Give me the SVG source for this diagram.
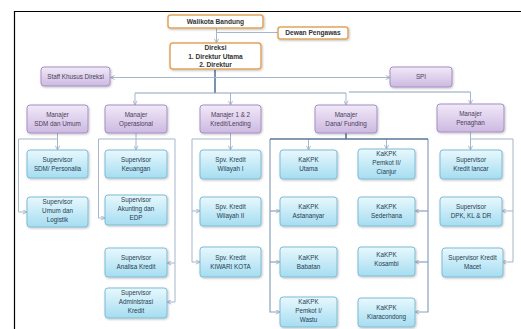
<svg xmlns="http://www.w3.org/2000/svg" width="521" height="329" viewBox="0 0 521 329">
  <defs>
    <linearGradient id="gMgr" x1="0" y1="0" x2="0" y2="1">
      <stop offset="0" stop-color="#f1e9f8"/>
      <stop offset="1" stop-color="#cdb9e1"/>
    </linearGradient>
    <linearGradient id="gSup" x1="0" y1="0" x2="0" y2="1">
      <stop offset="0" stop-color="#e8f8fd"/>
      <stop offset="1" stop-color="#a5ddf1"/>
    </linearGradient>
    <filter id="shadow" x="-10%" y="-10%" width="125%" height="135%">
      <feDropShadow dx="0.8" dy="1" stdDeviation="0.8" flood-color="#000" flood-opacity="0.25"/>
    </filter>
    <marker id="arr" viewBox="0 0 6 6" refX="5.5" refY="3" markerWidth="5" markerHeight="5" markerUnits="userSpaceOnUse" orient="auto">
      <path d="M0.5,0.5 L5.5,3 L0.5,5.5" fill="none" stroke="#9cb0c4" stroke-width="1"/>
    </marker>
  </defs>
  <style>
    .top rect { fill: #ffffff; stroke: #e1a45e; stroke-width: 1.5; filter: url(#shadow); }
    .mgr rect { fill: url(#gMgr); stroke: #a68fc6; stroke-width: 1; filter: url(#shadow); }
    .sup rect { fill: url(#gSup); stroke: #7fbcd5; stroke-width: 1; filter: url(#shadow); }
    text { font-family: "Liberation Sans", Arial, sans-serif; font-size: 6.3px; text-anchor: middle; }
    .top text { font-weight: bold; fill: #333333; font-size: 6.6px; }
    .mgr text { fill: #4a3f5c; }
    .sup text { fill: #27404f; }
    .ln { fill: none; stroke: #a4b7ca; stroke-width: 1; }
    .dk { fill: none; stroke: #587899; stroke-width: 1.6; }
    .md { fill: none; stroke: #8ba2ba; stroke-width: 1.2; }
    .ah { marker-end: url(#arr); }
  </style>

  <!-- frame -->
  <path d="M14.5,329 V11.5 H521" fill="none" stroke="#000" stroke-width="1.2"/>

  <!-- connectors -->
  <g id="connectors">
    <path class="ln ah" d="M216.5,28 V43"/>
    <path class="ln" d="M216.5,32.5 H278"/>
    <path class="dk" d="M215,70 V93"/>
    <path class="ln ah" d="M215,77.5 H110.5"/>
    <path class="ln ah" d="M215,77.5 H390"/>
    <path class="md" d="M135,93 H346"/>
    <path class="ln ah" d="M135,93 V105"/>
    <path class="ln ah" d="M230.5,93 V105"/>
    <path class="ln ah" d="M346,93 V105"/>
    <path class="md" d="M349,92 H470.5"/>
    <path class="ln ah" d="M470.5,92 V104"/>

    <!-- SDM dan Umum -->
    <path class="ln ah" d="M57.5,133 V150"/>
    <path class="ln ah" d="M57.5,139 H18.5 V212 H27"/>

    <!-- Operasional -->
    <path class="ln ah" d="M136,133 V150"/>
    <path class="ln" d="M98.5,139 H175"/>
    <path class="ln ah" d="M98.5,139 V218 H105"/>
    <path class="ln ah" d="M175,139 V302 H167"/>
    <path class="ln ah" d="M175,263 H167"/>

    <!-- Kredit/Lending -->
    <path class="ln ah" d="M230.5,133 V150"/>
    <path class="ln" d="M192,139 H230.5"/>
    <path class="ln ah" d="M192,139 V262 H200"/>
    <path class="ln ah" d="M192,211 H200"/>

    <!-- Dana/Funding -->
    <path class="md ah" d="M270,139 V312 H280"/>
    <path class="md ah" d="M270,211 H280"/>
    <path class="md ah" d="M270,262 H280"/>
    <path class="md ah" d="M428,139 V312 H415"/>
    <path class="md ah" d="M428,211 H415"/>
    <path class="md ah" d="M428,262 H415"/>
    <path class="ln ah" d="M308.5,139 V150"/>
    <path class="ln ah" d="M386.5,139 V149"/>
    <path class="dk" d="M270,139 H428 M346,133 V139"/>

    <!-- Penaghan -->
    <path class="ln ah" d="M470.5,132 V150"/>
    <path class="ln ah" d="M470.5,139 H513 V262 H502"/>
    <path class="ln ah" d="M513,211 H502"/>
  </g>

  <!-- top level -->
  <g id="walikota" class="top"><rect x="168" y="15" width="95" height="13" rx="2.5"/><text x="215.5" y="24" font-size="7px">Walikota Bandung</text></g>
  <g id="dewan" class="top"><rect x="278" y="27" width="70" height="12" rx="2.5"/><text x="313" y="35.3">Dewan Pengawas</text></g>
  <g id="direksi" class="top"><rect x="170" y="43" width="91" height="26" rx="3"/>
    <text x="215.5" y="50.3">Direksi</text><text x="215.5" y="58.5">1. Direktur Utama</text><text x="215.5" y="66.7">2. Direktur</text></g>

  <g id="staff" class="mgr"><rect x="41" y="67" width="69" height="19" rx="3"/><text x="75.5" y="78.5">Staff  Khusus Direksi</text></g>
  <g id="spi" class="mgr"><rect x="390" y="67" width="62" height="20" rx="3"/><text x="421" y="79">SPI</text></g>

  <!-- managers -->
  <g id="mgr-sdm" class="mgr"><rect x="27" y="105" width="61" height="28" rx="3"/><text x="57.5" y="117">Manajer</text><text x="57.5" y="125.5">SDM dan Umum</text></g>
  <g id="mgr-ops" class="mgr"><rect x="105" y="105" width="62" height="28" rx="3"/><text x="136" y="117">Manajer</text><text x="136" y="125.5">Operasional</text></g>
  <g id="mgr-kredit" class="mgr"><rect x="200" y="105" width="61" height="28" rx="3"/><text x="230.5" y="117">Manajer 1 &amp; 2</text><text x="230.5" y="125.5">Kredit/Lending</text></g>
  <g id="mgr-dana" class="mgr"><rect x="315" y="105" width="62" height="28" rx="3"/><text x="346" y="117">Manajer</text><text x="346" y="125.5">Dana/ Funding</text></g>
  <g id="mgr-penaghan" class="mgr"><rect x="437" y="104" width="67" height="28" rx="3"/><text x="470.5" y="116">Manajer</text><text x="470.5" y="124.5">Penaghan</text></g>

  <!-- SDM dan Umum -->
  <g id="spv-sdm" class="sup"><rect x="27" y="150" width="61" height="28" rx="3"/><text x="57.5" y="162">Supervisor</text><text x="57.5" y="171">SDM/ Personalia</text></g>
  <g id="spv-umum" class="sup"><rect x="27" y="197" width="61" height="30" rx="3"/><text x="57.5" y="204">Supervisor</text><text x="57.5" y="213">Umum dan</text><text x="57.5" y="222">Logistik</text></g>

  <!-- Operasional -->
  <g id="spv-keuangan" class="sup"><rect x="105" y="150" width="62" height="28" rx="3"/><text x="136" y="162">Supervisor</text><text x="136" y="171">Keuangan</text></g>
  <g id="spv-akunting" class="sup"><rect x="105" y="195" width="62" height="30" rx="3"/><text x="136" y="202">Supervisor</text><text x="136" y="211">Akunting dan</text><text x="136" y="220">EDP</text></g>
  <g id="spv-analisa" class="sup"><rect x="105" y="248" width="62" height="29" rx="3"/><text x="136" y="260">Supervisor</text><text x="136" y="269">Analisa Kredit</text></g>
  <g id="spv-admin" class="sup"><rect x="105" y="288" width="62" height="30" rx="3"/><text x="136" y="295">Supervisor</text><text x="136" y="304">Administrasi</text><text x="136" y="313">Kredit</text></g>

  <!-- Kredit/Lending -->
  <g id="spv-wil1" class="sup"><rect x="200" y="150" width="61" height="29" rx="3"/><text x="230.5" y="162">Spv. Kredit</text><text x="230.5" y="171">Wilayah I</text></g>
  <g id="spv-wil2" class="sup"><rect x="200" y="197" width="61" height="29" rx="3"/><text x="230.5" y="209">Spv. Kredit</text><text x="230.5" y="218">Wilayah II</text></g>
  <g id="spv-kiwari" class="sup"><rect x="200" y="247" width="61" height="30" rx="3"/><text x="230.5" y="259.5">Spv. Kredit</text><text x="230.5" y="268.5">KIWARI KOTA</text></g>

  <!-- Dana/Funding -->
  <g id="kakpk-utama" class="sup"><rect x="280" y="150" width="57" height="29" rx="3"/><text x="308.5" y="162">KaKPK</text><text x="308.5" y="171">Utama</text></g>
  <g id="kakpk-astananyar" class="sup"><rect x="280" y="197" width="57" height="29" rx="3"/><text x="308.5" y="209">KaKPK</text><text x="308.5" y="218">Astananyar</text></g>
  <g id="kakpk-babatan" class="sup"><rect x="280" y="247" width="57" height="30" rx="3"/><text x="308.5" y="259.5">KaKPK</text><text x="308.5" y="268.5">Babatan</text></g>
  <g id="kakpk-pemkot1" class="sup"><rect x="280" y="297" width="57" height="30" rx="3"/><text x="308.5" y="304">KaKPK</text><text x="308.5" y="313">Pemkot I/</text><text x="308.5" y="322">Wastu</text></g>
  <g id="kakpk-pemkot2" class="sup"><rect x="358" y="149" width="57" height="30" rx="3"/><text x="386.5" y="156">KaKPK</text><text x="386.5" y="165">Pemkot II/</text><text x="386.5" y="174">Cianjur</text></g>
  <g id="kakpk-sederhana" class="sup"><rect x="358" y="197" width="57" height="29" rx="3"/><text x="386.5" y="209">KaKPK</text><text x="386.5" y="218">Sederhana</text></g>
  <g id="kakpk-kosambi" class="sup"><rect x="358" y="247" width="57" height="29" rx="3"/><text x="386.5" y="257">KaKPK</text><text x="386.5" y="266">Kosambi</text></g>
  <g id="kakpk-kiaracondong" class="sup"><rect x="358" y="298" width="57" height="29" rx="3"/><text x="386.5" y="310">KaKPK</text><text x="386.5" y="319">Kiaracondong</text></g>

  <!-- Penaghan -->
  <g id="spv-lancar" class="sup"><rect x="440" y="150" width="62" height="29" rx="3"/><text x="471" y="162">Supervisor</text><text x="471" y="171">Kredit lancar</text></g>
  <g id="spv-dpk" class="sup"><rect x="440" y="197" width="62" height="29" rx="3"/><text x="471" y="209">Supervisor</text><text x="471" y="218">DPK, KL &amp; DR</text></g>
  <g id="spv-macet" class="sup"><rect x="442" y="248" width="61" height="29" rx="3"/><text x="472.5" y="260">Supervisor Kredit</text><text x="472.5" y="269">Macet</text></g>
</svg>
